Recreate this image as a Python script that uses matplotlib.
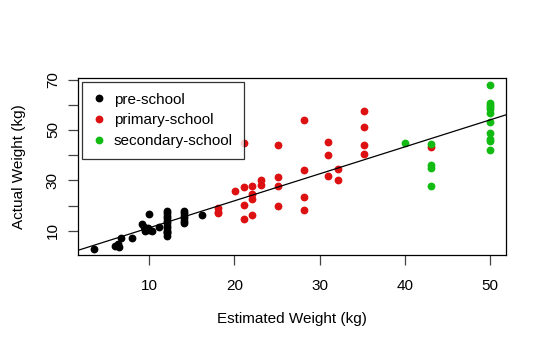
import numpy as np
import matplotlib.pyplot as plt

plt.rcParams['font.family'] = ['Liberation Sans', 'DejaVu Sans']

# estimated vs actual weight (kg), by school group
pre_est = [3.5, 6.0, 6.5, 6.3, 6.7, 8.0,
           9.2, 9.4, 9.6, 9.8, 10.0, 10.3, 9.5, 10.0, 11.1,
           12.1, 12.1, 12.1, 12.1, 12.1, 12.1, 12.1, 12.1, 12.1, 12.1, 12.1, 12.1,
           14.1, 14.1, 14.1, 14.1, 14.1, 14.1, 16.2]
pre_act = [2.7, 4.0, 3.6, 4.8, 7.0, 7.3,
           12.5, 11.5, 10.5, 11.0, 10.2, 10.0, 10.0, 16.6, 11.4,
           8.0, 9.0, 9.5, 10.0, 11.0, 12.0, 13.0, 14.0, 15.0, 16.0, 17.0, 18.0,
           13.0, 14.0, 15.0, 16.0, 17.0, 18.0, 16.4]

pri_est = [18.1, 18.1, 18.1, 20.1, 21.1, 21.1, 21.1, 21.1,
           22.1, 22.1, 22.1, 22.1, 23.1, 23.1,
           25.1, 25.1, 25.1, 25.1, 28.1, 28.1, 28.1, 28.1,
           31.0, 31.0, 31.0, 32.1, 32.1,
           35.2, 35.2, 35.2, 35.2, 43.1]
pri_act = [19.1, 17.6, 16.9, 25.6, 45.0, 27.4, 20.4, 14.7,
           27.9, 24.6, 22.7, 16.4, 30.0, 28.0,
           44.0, 31.3, 27.6, 20.0, 53.9, 34.3, 23.5, 18.3,
           45.1, 39.9, 31.6, 34.7, 30.0,
           57.6, 51.1, 43.9, 40.3, 43.3]

sec_est = [40.0, 43.1, 43.1, 43.1, 43.1,
           50, 50, 50, 50, 50, 50, 50, 50, 50, 50, 50]
sec_act = [44.7, 44.4, 36.0, 34.8, 27.6,
           68.0, 60.8, 60.0, 59.2, 58.2, 56.6, 53.3, 48.7, 46.4, 45.6, 42.0]

# fitted line (intercept, slope)
fit_a, fit_b = 0.5, 1.07

fig = plt.figure(figsize=(5.47, 3.53), dpi=100)
ax = fig.add_axes([78/547, 1-255/353, 428/547, 177/353])

ax.plot(pre_est, pre_act, 'o', color='black', ms=4.6, label='pre-school')
ax.plot(pri_est, pri_act, 'o', color='#DD1111', ms=4.6, label='primary-school')
ax.plot(sec_est, sec_act, 'o', color='#11BB11', ms=4.6, label='secondary-school')
ax.axline((0, fit_a), slope=fit_b, color='black', lw=0.9)

ax.set_xlim(1.64, 51.86)
ax.set_ylim(0.4, 70.6)
ax.set_xticks([10, 20, 30, 40, 50])
ax.set_yticks([10, 20, 30, 40, 50, 60, 70])
ax.set_yticklabels(['10', '', '30', '', '50', '', '70'], rotation=90, va='center')
ax.tick_params(axis='both', length=7, width=0.9, labelsize=11, colors='#444444',
               labelcolor='black')
ax.tick_params(axis='x', pad=10)
ax.tick_params(axis='y', pad=6)
for s in ax.spines.values():
    s.set_linewidth(0.9)

ax.set_xlabel('Estimated Weight (kg)', fontsize=11, labelpad=14)
ax.set_ylabel('Actual Weight (kg)', fontsize=11, labelpad=14)

leg = ax.legend(loc='upper left', fontsize=11, frameon=True, fancybox=False,
                edgecolor='black', borderaxespad=0.25, handlelength=0.8,
                handletextpad=0.6, labelspacing=0.45, borderpad=0.7)
leg.get_frame().set_linewidth(0.9)

fig.savefig('out.png', dpi=100)
